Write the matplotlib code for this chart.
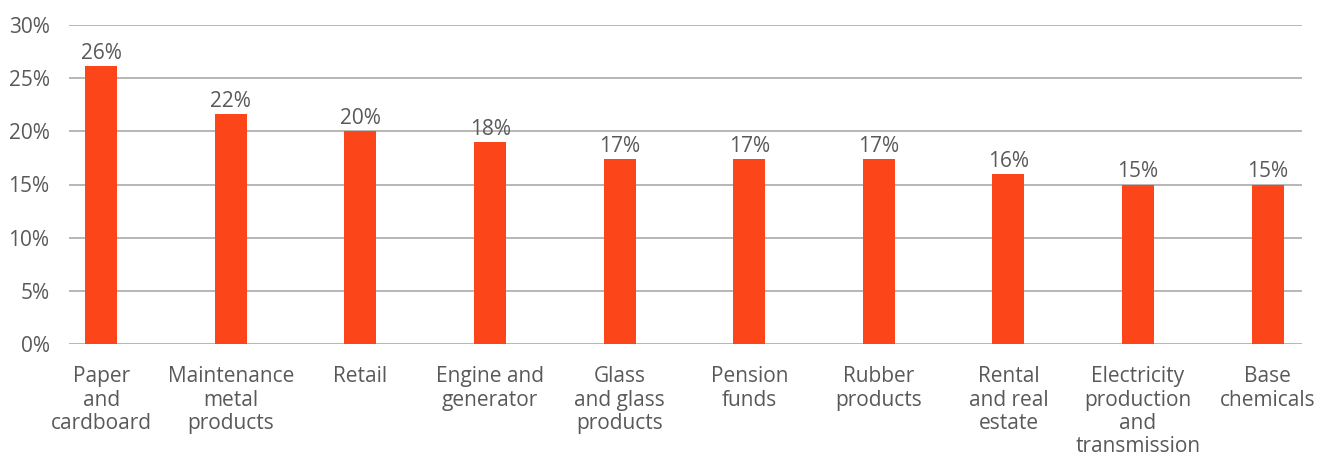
import matplotlib
matplotlib.use("Agg")
import matplotlib.pyplot as plt

# data
categories = ["Paper\nand\ncardboard", "Maintenance\nmetal\nproducts", "Retail",
              "Engine and\ngenerator", "Glass\nand glass\nproducts", "Pension\nfunds",
              "Rubber\nproducts", "Rental\nand real\nestate",
              "Electricity\nproduction\nand\ntransmission", "Base\nchemicals"]
values = [26.1, 21.6, 20.0, 19.0, 17.4, 17.4, 17.4, 16.0, 15.0, 15.0]
labels = ["26%", "22%", "20%", "18%", "17%", "17%", "17%", "16%", "15%", "15%"]
yticks = [0, 5, 10, 15, 20, 25, 30]

bar_color = "#FC4619"
text_color = "#595959"
grid_color = "#A3A3A3"

plt.rcParams['font.family'] = ['Open Sans', 'DejaVu Sans']

fig = plt.figure(figsize=(13.35, 4.59), dpi=100)
ax = fig.add_axes([69/1335, 1 - 344/459, 1233/1335, 319/459])

x = list(range(len(categories)))
ax.bar(x, values, width=0.247, color=bar_color, zorder=3)
for xi, v, lab in zip(x, values, labels):
    ax.text(xi, v + 0.2, lab, ha="center", va="bottom", fontsize=15, color=text_color)

ax.set_ylim(0, 30)
ax.set_xlim(-0.249, 9.265)
ax.set_yticks(yticks)
ax.set_yticklabels([f"{t}%" for t in yticks])
ax.set_xticks(x)
ax.set_xticklabels(categories, linespacing=1.15)
ax.tick_params(axis="both", length=0, labelsize=15, labelcolor=text_color)
ax.tick_params(axis="x", pad=16)
ax.tick_params(axis="y", pad=14)
ax.grid(axis="y", color=grid_color, linewidth=1.1, zorder=0)
for s in ax.spines.values():
    s.set_visible(False)

fig.savefig("out.png", dpi=100)
